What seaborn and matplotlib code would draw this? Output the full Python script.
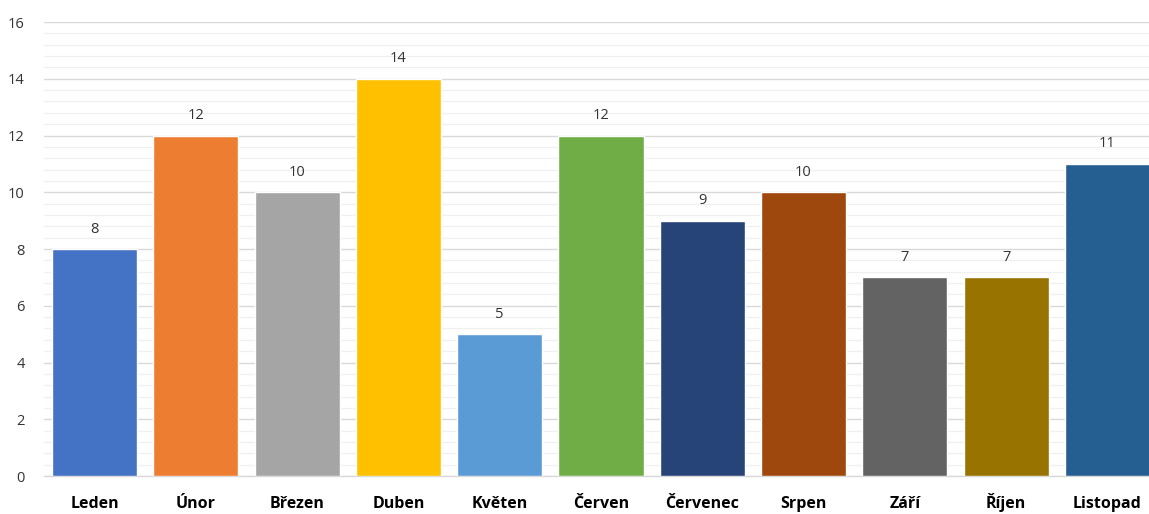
import matplotlib
matplotlib.use("Agg")
import matplotlib.pyplot as plt
import seaborn as sns
import pandas as pd
from matplotlib.ticker import MultipleLocator

months = ["Leden", "Únor", "Březen", "Duben", "Květen", "Červen",
          "Červenec", "Srpen", "Září", "Říjen", "Listopad"]
values = [8, 12, 10, 14, 5, 12, 9, 10, 7, 7, 11]
colors = ["#4472C4", "#ED7D31", "#A5A5A5", "#FFC000", "#5B9BD5", "#70AD47",
          "#264478", "#9E480E", "#636363", "#997300", "#255E91"]

sns.set_theme(style="white")
plt.rcParams['font.family'] = ['Open Sans', 'DejaVu Sans']

df = pd.DataFrame({"month": months, "value": values})

W, H = 1149, 514
fig = plt.figure(figsize=(W / 100, H / 100), dpi=100)
left_px, right_px = 44, 1158
top_px, bottom_px = 22, 476
ax = fig.add_axes([left_px / W, 1 - bottom_px / H,
                   (right_px - left_px) / W, (bottom_px - top_px) / H])

sns.barplot(data=df, x="month", y="value", hue="month", palette=colors,
            legend=False, width=0.84, saturation=1, ax=ax, zorder=3)

ax.set_xlim(-0.5, len(months) - 0.5)
ax.set_ylim(0, 16)
ax.yaxis.set_major_locator(MultipleLocator(2))
ax.yaxis.set_minor_locator(MultipleLocator(0.4))
ax.grid(axis="y", which="major", color="#D9D9D9", linewidth=1.0, zorder=0)
ax.grid(axis="y", which="minor", color="#F0F0F0", linewidth=1.0, zorder=0)
ax.set_axisbelow(True)

for s in ["top", "right", "left"]:
    ax.spines[s].set_visible(False)
ax.spines["bottom"].set_color("#D9D9D9")
ax.spines["bottom"].set_linewidth(1.0)

ax.set_xlabel("")
ax.set_ylabel("")
ax.tick_params(axis="y", which="both", length=0, labelsize=10.5,
               labelcolor="#333333", pad=14)
ax.tick_params(axis="x", length=0, labelsize=11.5, pad=23)
for lbl in ax.get_xticklabels():
    lbl.set_fontweight("bold")
    lbl.set_color("#000000")
    lbl.set_verticalalignment("baseline")

for cont in ax.containers:
    ax.bar_label(cont, fmt="%d", padding=9, fontsize=10.5, color="#333333")

fig.savefig("out.png", dpi=100)
